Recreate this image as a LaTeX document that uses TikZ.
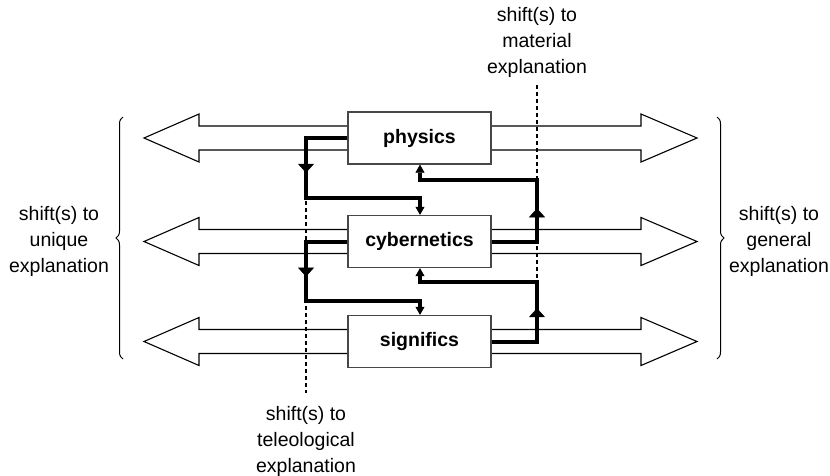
\documentclass[tikz,border=0pt]{standalone}
\usepackage{fontspec}
\setmainfont{Liberation Sans}
\usetikzlibrary{arrows.meta,calc,backgrounds,decorations.pathreplacing,decorations.markings}
\begin{document}
\begin{tikzpicture}[x=1pt,y=-1pt,
  box/.style={draw=black!72,line width=1.3pt,fill=white,minimum width=143pt,minimum height=52pt,inner sep=0pt,font=\fontsize{19.5}{24}\selectfont\bfseries},
  lbl/.style={align=center,inner sep=0pt,font=\fontsize{19.5}{26}\selectfont},
  bigarrow/.style={draw=black,line width=1.1pt,fill=white,line join=miter},
  thickline/.style={line width=4pt,line join=miter,line cap=butt},
  guide/.style={dash pattern=on 4pt off 3pt,line width=1.3pt},
  midarrow/.style={postaction={decorate},decoration={markings,mark=at position #1 with {\arrow{Triangle[width=16pt,length=9pt,line width=0.5pt]}}}},
  endtip/.style={-{Triangle[width=9pt,length=8pt,line width=0.5pt]}},
  bracestyle/.style={decorate,decoration={brace,amplitude=7pt},line width=1pt}
]
\useasboundingbox (0,0) rectangle (830,475);

% boxes
\node[box] (phys) at (419.5,138) {physics};
\node[box] (cyb) at (419.5,241.5) {cybernetics};
\node[box] (sig) at (419.5,341.5) {significs};

% helper coordinates
\coordinate (lcol) at (306,0);
\coordinate (rcol) at (537,0);
\coordinate (mcol) at (420,0);
\coordinate (lhb) at (199,0);
\coordinate (ltip) at (144,0);
\coordinate (rhb) at (641,0);
\coordinate (rtip) at (697,0);
\coordinate (k1) at (306,198);
\coordinate (k2) at (306,301);
\coordinate (k3) at (537,282);
\coordinate (k4) at (537,180);
\coordinate (tbot) at (306,393);
\coordinate (mtop) at (537,85);

% big hollow arrows behind the boxes
\begin{pgfonlayer}{background}
\foreach \n in {phys,cyb,sig}{
  \draw[bigarrow] ($(\n.center)+(0,-12)$) -- ($(\n.center -| lhb)+(0,-12)$) -- ($(\n.center -| lhb)+(0,-24)$)
    -- (\n.center -| ltip) -- ($(\n.center -| lhb)+(0,24)$) -- ($(\n.center -| lhb)+(0,12)$) -- ($(\n.center)+(0,12)$);
  \draw[bigarrow] ($(\n.center)+(0,-12)$) -- ($(\n.center -| rhb)+(0,-12)$) -- ($(\n.center -| rhb)+(0,-24)$)
    -- (\n.center -| rtip) -- ($(\n.center -| rhb)+(0,24)$) -- ($(\n.center -| rhb)+(0,12)$) -- ($(\n.center)+(0,12)$);
}
\end{pgfonlayer}

% dashed guide lines
\draw[guide] (phys.west -| lcol) -- (tbot);
\draw[guide] (mtop) -- (sig.east -| rcol);

% thick connectors
\draw[thickline,endtip] (phys.west) -| (k1) -| (mcol |- cyb.north);
\draw[thickline,midarrow=0.58] (phys.west -| lcol) -- (k1);
\draw[thickline,endtip] (cyb.west) -| (k2) -| (mcol |- sig.north);
\draw[thickline,midarrow=0.59] (cyb.west -| lcol) -- (k2);
\draw[thickline,endtip] (sig.east) -| (k3) -| (mcol |- cyb.south);
\draw[thickline,midarrow=0.56] (sig.east -| rcol) -- (k3);
\draw[thickline,endtip] (cyb.east) -| (k4) -| (mcol |- phys.south);
\draw[thickline,midarrow=0.54] (cyb.east -| rcol) -- (k4);

% braces
\coordinate (lb1) at (123,359);
\coordinate (lb2) at (123,117);
\coordinate (rb1) at (717,117);
\coordinate (rb2) at (717,359);
\draw[bracestyle] (lb1) -- (lb2);
\draw[bracestyle] (rb1) -- (rb2);

% labels
\node[lbl] (mat) at (537,42) {shift(s) to\\material\\explanation};
\node[lbl] (tel) at (306,441) {shift(s) to\\teleological\\explanation};
\node[lbl] (uni) at (59,241) {shift(s) to\\unique\\explanation};
\node[lbl] (gen) at (779,241) {shift(s) to\\general\\explanation};
\end{tikzpicture}
\end{document}
